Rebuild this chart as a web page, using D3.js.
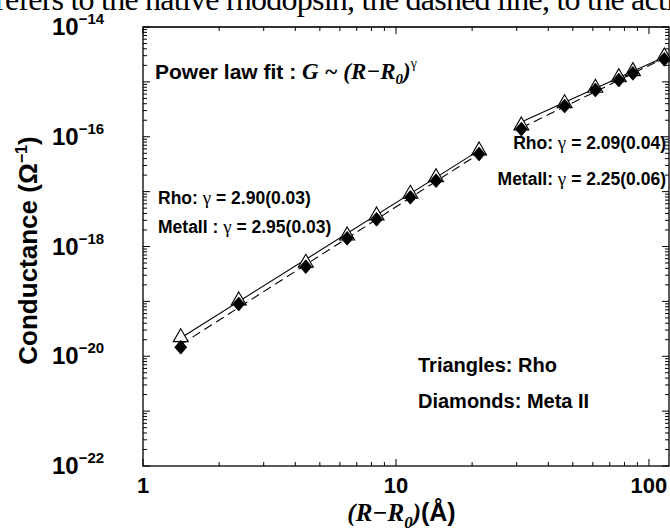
<!DOCTYPE html>
<html>
<head>
<meta charset="utf-8">
<script src="https://cdn.jsdelivr.net/npm/d3@7"></script>
<style>
  html, body { margin: 0; padding: 0; background: #fff; }
  svg { display: block; }
  .sans { font-family: "Liberation Sans", Arial, Helvetica, sans-serif; font-weight: bold; }
  .serif { font-family: "Liberation Serif", "Times New Roman", serif; }
</style>
</head>
<body>
<svg id="chart" width="670" height="529"></svg>
<script>
// Tip-to-tip separation R - R0 (Å)
const separation = [1.41, 2.39, 4.40, 6.41, 8.38, 11.4, 14.4, 21.3, 31.3, 46.4, 61.4, 76.0, 86.4, 115];
// Conductance (1/Ω) for the native rhodopsin (triangles)
const rhoG = [2.27e-20, 1.06e-19, 5.15e-19, 1.62e-18, 3.75e-18, 9.31e-18, 1.87e-17, 5.74e-17,
              1.64e-16, 4.17e-16, 7.96e-16, 1.24e-15, 1.60e-15, 2.96e-15];
// Conductance (1/Ω) for the active Meta II state (diamonds)
const metaG = [1.46e-20, 8.96e-20, 4.28e-19, 1.41e-18, 3.13e-18, 7.88e-18, 1.58e-17, 4.85e-17,
               1.38e-16, 3.63e-16, 7.11e-16, 1.08e-15, 1.43e-15, 2.58e-15];

// Power-law fits G = A (R-R0)^γ, one per range
const fitRange = [[1.41, 21.3], [31.3, 115]];
const rhoGamma = [2.90, 2.09];
const rhoGammaErr = [0.03, 0.04];
const rhoLog10A = [-20.101, -18.855];
const metaGamma = [2.95, 2.25];
const metaGammaErr = [0.03, 0.06];
const metaLog10A = [-20.229, -19.202];

// Axis labelling
const xTickLabels = [1, 10, 100];
const yLabelExponents = [-14, -16, -18, -20, -22];

const svg = d3.select("#chart");
const L = 143, R = 669, T = 27, B = 466;

const x = d3.scaleLog().domain([1, 120]).range([L, R]);
const y = d3.scaleLog().domain([1e-22, 1e-14]).range([B, T]);

// Stray line of running text above the figure
svg.append("text").attr("class", "serif")
  .attr("x", -5).attr("y", 10)
  .attr("font-size", 32).attr("fill", "#000")
  .attr("textLength", 680).attr("lengthAdjust", "spacing")
  .text("refers to the native rhodopsin, the dashed line, to the acti");

// Frame
svg.append("rect").attr("x", L).attr("y", T).attr("width", R - L).attr("height", B - T)
  .attr("fill", "#fff").attr("stroke", "#000").attr("stroke-width", 1.3);
svg.append("line").attr("x1", L).attr("x2", R).attr("y1", T).attr("y2", T)
  .attr("stroke", "#333").attr("stroke-width", 2);

// Ticks on all four sides, pointing inward
const isMajor = v => Math.abs(Math.log10(v) - Math.round(Math.log10(v))) < 1e-9;
const tg = svg.append("g").attr("stroke", "#000").attr("stroke-width", 1);
x.ticks().forEach(v => {
  const len = isMajor(v) ? 7 : 4;
  const px = x(v);
  tg.append("line").attr("x1", px).attr("x2", px).attr("y1", B).attr("y2", B - len);
  tg.append("line").attr("x1", px).attr("x2", px).attr("y1", T).attr("y2", T + len);
});
y.ticks().forEach(v => {
  const len = isMajor(v) ? 7 : 4;
  const py = y(v);
  tg.append("line").attr("x1", L).attr("x2", L + len).attr("y1", py).attr("y2", py);
  tg.append("line").attr("x1", R).attr("x2", R - len).attr("y1", py).attr("y2", py);
});

// X tick labels
xTickLabels.forEach(v => {
  svg.append("text").attr("class", "sans")
    .attr("x", x(v)).attr("y", y(1e-22) + 27)
    .attr("text-anchor", "middle").attr("font-size", 22)
    .text(v);
});

// Y tick labels 10^n
yLabelExponents.forEach(e => {
  const t = svg.append("text").attr("class", "sans")
    .attr("x", 52).attr("y", y(Math.pow(10, e)) + 8)
    .attr("font-size", 24);
  t.append("tspan").text("10");
  t.append("tspan").attr("dy", -11).attr("font-size", 15).text("\u2212" + Math.abs(e));
});

// Axis titles
const yt = svg.append("text").attr("class", "sans")
  .attr("transform", `translate(37, ${(T + B) / 2 + 4}) rotate(-90)`)
  .attr("text-anchor", "middle").attr("font-size", 26);
yt.append("tspan").text("Conductance (\u03A9");
yt.append("tspan").attr("dy", -10).attr("font-size", 16).text("\u22121");
yt.append("tspan").attr("dy", 10).text(")");

const xt = svg.append("text").attr("x", (L + 660) / 2).attr("y", 521)
  .attr("text-anchor", "middle").attr("font-size", 25);
xt.append("tspan").attr("class", "serif").attr("font-weight", "bold").attr("font-style", "italic").text("(R\u2212R");
xt.append("tspan").attr("class", "serif").attr("font-weight", "bold").attr("font-style", "italic")
  .attr("dy", 7).attr("font-size", 17).text("0");
xt.append("tspan").attr("class", "serif").attr("font-weight", "bold").attr("font-style", "italic")
  .attr("dy", -7).text(")");
xt.append("tspan").attr("class", "sans").text("(\u00C5)");

// Fit lines
const lineGen = d3.line().x(d => x(d[0])).y(d => y(d[1]));
function fitPoints(logA, g, r) {
  return r.map(v => [v, Math.pow(10, logA + g * Math.log10(v))]);
}
fitRange.forEach((r, i) => {
  svg.append("path").attr("d", lineGen(fitPoints(rhoLog10A[i], rhoGamma[i], r)))
    .attr("fill", "none").attr("stroke", "#000").attr("stroke-width", 1.1);
  svg.append("path").attr("d", lineGen(fitPoints(metaLog10A[i], metaGamma[i], r)))
    .attr("fill", "none").attr("stroke", "#000").attr("stroke-width", 1.1)
    .attr("stroke-dasharray", "9,5");
});

// Marker shapes: open triangle and a near-square diamond
const triangleShape = {
  draw(ctx, size) {
    const s = Math.sqrt(size);          // side length
    const h = s * Math.sqrt(3) / 2;
    ctx.moveTo(0, -h * 0.62);
    ctx.lineTo(s / 2, h * 0.38);
    ctx.lineTo(-s / 2, h * 0.38);
    ctx.closePath();
  }
};
const diamondShape = {
  draw(ctx, size) {
    const w = Math.sqrt(size) / 2, hh = w * 1.15;
    ctx.moveTo(0, -hh);
    ctx.lineTo(w, 0);
    ctx.lineTo(0, hh);
    ctx.lineTo(-w, 0);
    ctx.closePath();
  }
};
const tri = d3.symbol().type(triangleShape).size(225);
const dia = d3.symbol().type(diamondShape).size(144);
svg.append("g").selectAll("path").data(separation).join("path")
  .attr("d", tri)
  .attr("transform", (d, i) => `translate(${x(d)},${y(rhoG[i])})`)
  .attr("fill", "#fff").attr("stroke", "#000").attr("stroke-width", 1.1);
svg.append("g").selectAll("path").data(separation).join("path")
  .attr("d", dia)
  .attr("transform", (d, i) => `translate(${x(d)},${y(metaG[i])})`)
  .attr("fill", "#000").attr("stroke", "#000").attr("stroke-width", 0.8);

// Annotations
const pl = svg.append("text").attr("x", 155).attr("y", 79).attr("font-size", 21);
pl.append("tspan").attr("class", "sans").text("Power law fit : ");
pl.append("tspan").attr("class", "serif").attr("font-weight", "bold").attr("font-style", "italic")
  .attr("font-size", 23).text("G ~ (R\u2212R");
pl.append("tspan").attr("class", "serif").attr("font-weight", "bold").attr("font-style", "italic")
  .attr("dy", 5).attr("font-size", 15).text("0");
pl.append("tspan").attr("class", "serif").attr("font-weight", "bold").attr("font-style", "italic")
  .attr("dy", -5).attr("font-size", 23).text(")");
pl.append("tspan").attr("class", "serif").attr("dy", -11).attr("font-size", 14).text("\u03B3");

function gammaLabel(px, py, anchor, name, g, err) {
  const t = svg.append("text").attr("class", "sans").attr("x", px).attr("y", py)
    .attr("text-anchor", anchor).attr("font-size", 17.5);
  t.append("tspan").text(name + " ");
  t.append("tspan").attr("class", "serif").attr("font-weight", "normal").attr("font-size", 19).text("\u03B3");
  t.append("tspan").text(" = " + g.toFixed(2) + "(" + err.toFixed(2) + ")");
}
gammaLabel(158, 204, "start", "Rho:", rhoGamma[0], rhoGammaErr[0]);
gammaLabel(158, 233, "start", "MetaII :", metaGamma[0], metaGammaErr[0]);
gammaLabel(666, 149, "end", "Rho:", rhoGamma[1], rhoGammaErr[1]);
gammaLabel(666, 185, "end", "MetaII:", metaGamma[1], metaGammaErr[1]);

svg.append("text").attr("class", "sans").attr("x", 418).attr("y", 372)
  .attr("font-size", 20).text("Triangles: Rho");
svg.append("text").attr("class", "sans").attr("x", 418).attr("y", 408)
  .attr("font-size", 20).text("Diamonds: Meta II");
</script>
</body>
</html>
